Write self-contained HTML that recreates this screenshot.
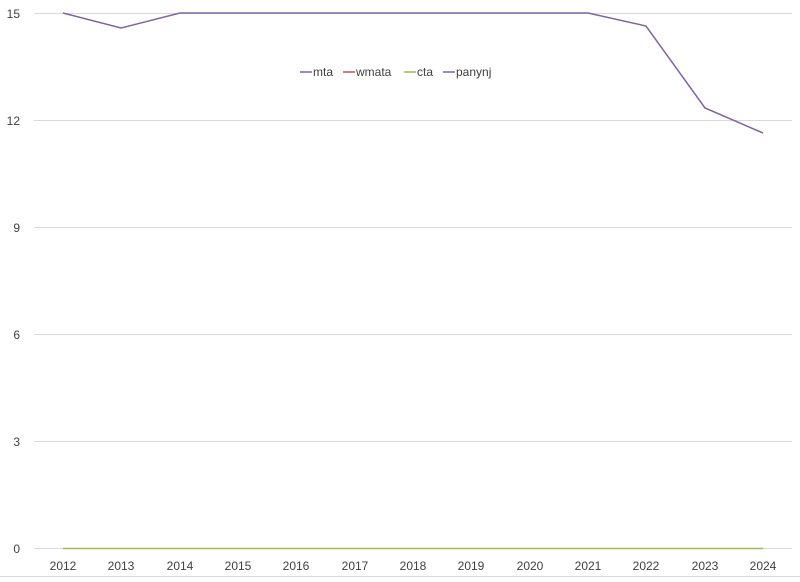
<!DOCTYPE html>
<html><head><style>body{margin:0;background:#fff}</style></head><body>
<svg width="800" height="577" xmlns="http://www.w3.org/2000/svg" font-family="Liberation Sans, sans-serif" font-size="12" fill="#404040">
<rect width="800" height="577" fill="#fff"/>
<g stroke="#d9d9d9" stroke-width="1">
<line x1="34" x2="792" y1="13.5" y2="13.5"/>
<line x1="34" x2="792" y1="120.5" y2="120.5"/>
<line x1="34" x2="792" y1="227.5" y2="227.5"/>
<line x1="34" x2="792" y1="334.5" y2="334.5"/>
<line x1="34" x2="792" y1="441.5" y2="441.5"/>
<line x1="34" x2="792" y1="548.5" y2="548.5"/>
</g>
<line x1="0" x2="800" y1="576.5" y2="576.5" stroke="#d9d9d9"/>
<g text-anchor="end">
<text x="20" y="18">15</text><text x="20" y="125">12</text><text x="20" y="232">9</text>
<text x="20" y="339">6</text><text x="20" y="446">3</text><text x="20" y="553">0</text>
</g>
<g text-anchor="middle">
<text x="63" y="570">2012</text><text x="121" y="570">2013</text><text x="180" y="570">2014</text>
<text x="238" y="570">2015</text><text x="296" y="570">2016</text><text x="355" y="570">2017</text>
<text x="413" y="570">2018</text><text x="471" y="570">2019</text><text x="530" y="570">2020</text>
<text x="588" y="570">2021</text><text x="646" y="570">2022</text><text x="705" y="570">2023</text>
<text x="763" y="570">2024</text>
</g>
<line x1="63" x2="763" y1="548.5" y2="548.5" stroke="#9bbb59" stroke-width="1.5"/>
<polyline fill="none" stroke="#8064a2" stroke-width="1.5" points="63,13 121,28 180,13 238,13 296,13 355,13 413,13 471,13 530,13 588,13 646,26 705,108 763,133"/>
<g stroke-width="1.5">
<line x1="300" x2="312" y1="72" y2="72" stroke="#8064a2"/>
<line x1="343" x2="355" y1="72" y2="72" stroke="#c0504d"/>
<line x1="404" x2="416" y1="72" y2="72" stroke="#9bbb59"/>
<line x1="443" x2="455" y1="72" y2="72" stroke="#8064a2"/>
</g>
<text x="313" y="76">mta</text><text x="356" y="76">wmata</text><text x="417" y="76">cta</text><text x="456" y="76">panynj</text>
</svg>
</body></html>
